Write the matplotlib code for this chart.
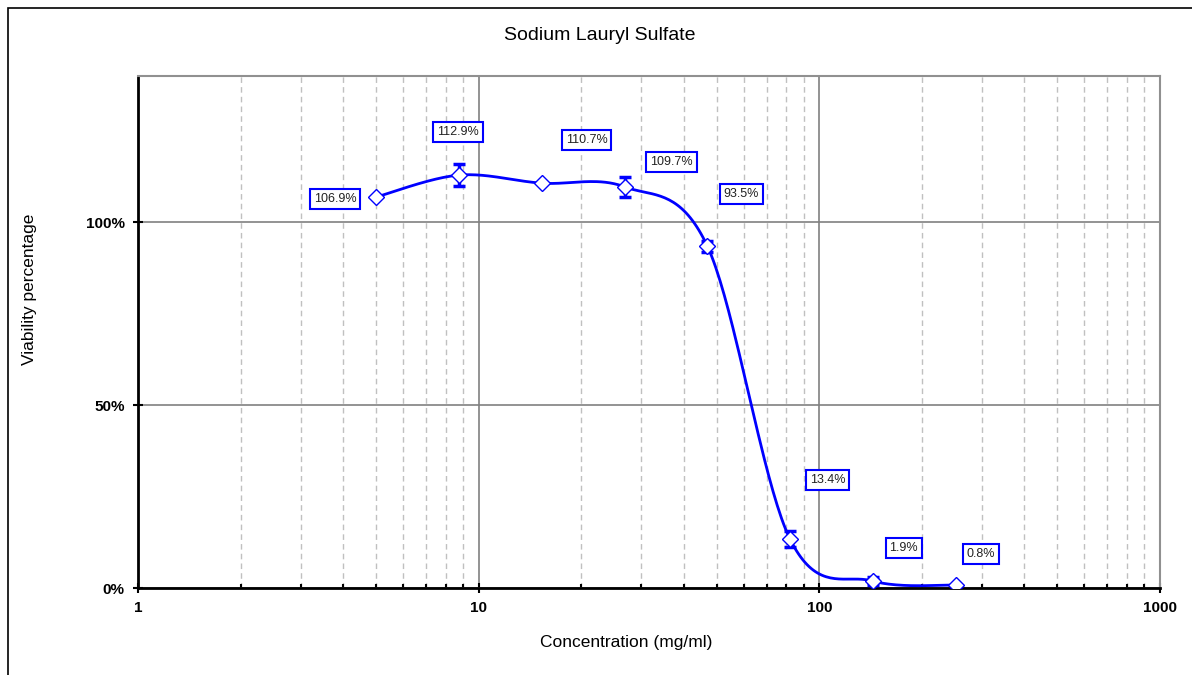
import numpy as np
import matplotlib.pyplot as plt
from matplotlib.patches import Rectangle
from matplotlib.ticker import FixedLocator, NullFormatter, LogLocator

plt.rcParams['font.family'] = ['Liberation Sans', 'DejaVu Sans']

conc = [5, 8.75, 15.3, 26.8, 46.9, 82.0, 143.6, 251.3]
viab = [106.9, 112.9, 110.7, 109.7, 93.5, 13.4, 1.9, 0.8]
err = [0, 3.0, 0, 2.7, 1.5, 2.3, 1.0, 0]
labels = ['106.9%', '112.9%', '110.7%', '109.7%', '93.5%', '13.4%', '1.9%', '0.8%']
# label offsets in pixels (dx, dy)
offs = [(-41, -2), (-1, 43), (45, 43), (47, 25), (34, 52), (38, 59), (31, 33), (25, 31)]

W, H = 1192, 675
fig = plt.figure(figsize=(W / 100, H / 100), dpi=100)
ax = fig.add_axes([138 / W, 1 - 588 / H, (1160 - 138) / W, (588 - 76) / H])
ax.set_xscale('log')
ax.set_xlim(1, 1000)
ax.set_ylim(0, 140)

# smooth line through the points (Bezier, Excel-style), computed in screen-like space
aw, ah = 1160 - 138, 588 - 76
u = np.log10(conc) / 3 * aw
v = np.array(viab) / 140 * ah
P = np.column_stack([u, v])
n = len(P)
curve = []
t = np.linspace(0, 1, 40)
for i in range(n - 1):
    p0 = P[max(i - 1, 0)]
    p1, p2 = P[i], P[i + 1]
    p3 = P[min(i + 2, n - 1)]
    c1 = p1 + (p2 - p0) / 6
    c2 = p2 - (p3 - p1) / 6
    seg = ((1 - t) ** 3)[:, None] * p1 + (3 * (1 - t) ** 2 * t)[:, None] * c1 \
        + (3 * (1 - t) * t ** 2)[:, None] * c2 + (t ** 3)[:, None] * p2
    curve.append(seg)
curve = np.vstack(curve)
cx = 10 ** (curve[:, 0] / aw * 3)
cy = curve[:, 1] / ah * 140

ax.plot(cx, cy, color='#0000FF', lw=2.0, zorder=3)
ax.errorbar(conc, viab, yerr=err, fmt='none', ecolor='#0000FF', elinewidth=2.5,
            capsize=4, capthick=2.5, zorder=4)
ax.plot(conc, viab, 'D', ms=8.5, mfc='white', mec='#0000FF', mew=1.0, ls='none', zorder=5)

for xi, yi, lab, (dx, dy) in zip(conc, viab, labels, offs):
    ax.annotate(lab, (xi, yi), xytext=(dx, dy), textcoords='offset pixels',
                ha='center', va='center', fontsize=9, color='#222222',
                bbox=dict(boxstyle='square,pad=0.3', fc='white', ec='#0000FF', lw=1.5),
                zorder=6)

# grid
ax.xaxis.set_major_locator(FixedLocator([1, 10, 100, 1000]))
ax.xaxis.set_minor_locator(LogLocator(base=10, subs=np.arange(2, 10)))
ax.xaxis.set_minor_formatter(NullFormatter())
ax.set_xticklabels(['1', '10', '100', '1000'])
ax.set_yticks([0, 50, 100])
ax.set_yticklabels(['0%', '50%', '100%'])
ax.grid(which='major', color='#808080', lw=1.2, ls='-')
ax.grid(which='minor', axis='x', color='#c0c0c0', lw=1.0, ls=(0, (4, 3)))
ax.set_axisbelow(True)

for s in ['left', 'bottom']:
    ax.spines[s].set_color('black')
    ax.spines[s].set_linewidth(2)
for s in ['top', 'right']:
    ax.spines[s].set_color('#909090')
    ax.spines[s].set_linewidth(1.5)

ax.tick_params(which='major', direction='inout', length=7, width=1.5, labelsize=11,
               pad=6, colors='black')
ax.tick_params(axis='x', which='minor', direction='in', length=3, width=1.5)
for lab in ax.get_xticklabels() + ax.get_yticklabels():
    lab.set_fontweight('bold')

fig.text(600 / W, 1 - 35 / H, 'Sodium Lauryl Sulfate', ha='center', va='center', fontsize=14)
fig.text(626 / W, 1 - 643 / H, 'Concentration (mg/ml)', ha='center', va='center', fontsize=12.5)
fig.text(30 / W, 1 - 289 / H, 'Viability percentage', ha='center', va='center',
         fontsize=12.5, rotation=90)

# outer frame
fig.patches.append(Rectangle((8 / W, -0.1), 1.2, 1 - 8 / H + 0.1, transform=fig.transFigure,
                             fill=False, ec='black', lw=1.2))

fig.savefig('out.png', dpi=100)
